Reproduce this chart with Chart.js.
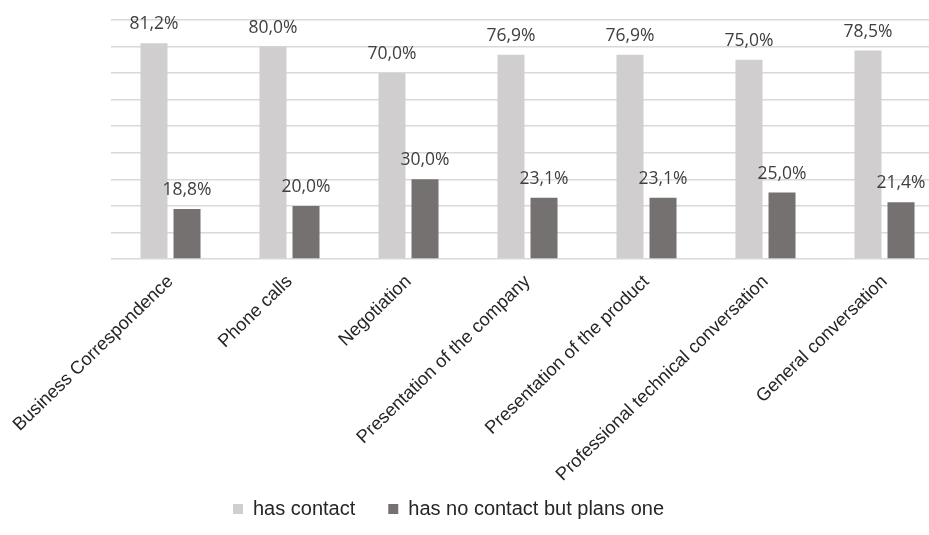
<!DOCTYPE html>
<html>
<head>
<meta charset="utf-8">
<script src="https://cdn.jsdelivr.net/npm/chart.js@4/dist/chart.umd.min.js"></script>
<style>
  html, body { margin: 0; padding: 0; background: #fff; overflow: hidden; }
  #wrap { position: absolute; left: 0; top: 0; width: 960px; height: 535px; }
</style>
</head>
<body>
<div id="wrap"><canvas id="chart" width="960" height="535"></canvas></div>
<script>
const categories = [
  'Business Correspondence',
  'Phone calls',
  'Negotiation',
  'Presentation of the company',
  'Presentation of the product',
  'Professional technical conversation',
  'General conversation'
]
const hasContact = [81.2, 80.0, 70.0, 76.9, 76.9, 75.0, 78.5]
const plansContact = [18.8, 20.0, 30.0, 23.1, 23.1, 25.0, 21.4]
const yTicks = [0, 10, 20, 30, 40, 50, 60, 70, 80, 90]

const fmt = (v) => v.toFixed(1).replace('.', ',') + '%'

// value labels above every bar
const valueLabels = {
  id: 'valueLabels',
  afterDatasetsDraw(chart) {
    const ctx = chart.ctx
    ctx.save()
    ctx.font = '17.5px "Open Sans"'
    ctx.fillStyle = '#404040'
    ctx.textAlign = 'center'
    ctx.textBaseline = 'alphabetic'
    chart.data.datasets.forEach((ds, i) => {
      chart.getDatasetMeta(i).data.forEach((bar, j) => {
        ctx.fillText(fmt(ds.data[j]), bar.x, bar.y - 14)
      })
    })
    ctx.restore()
  }
}

// legend sits left of the plot centre in the original,
// and the long rotated labels run down past the axis box
const layoutTweaks = {
  id: 'layoutTweaks',
  afterLayout(chart) {
    const lg = chart.legend
    lg.left -= 79
    lg.right -= 79
    lg.top += 2
    lg.bottom += 2
    chart.scales.x.bottom = chart.height
  }
}

new Chart(document.getElementById('chart'), {
  type: 'bar',
  data: {
    labels: categories,
    datasets: [
      {
        label: 'has contact',
        data: hasContact,
        backgroundColor: '#D0CECE'
      },
      {
        label: 'has no contact but plans one',
        data: plansContact,
        backgroundColor: '#767171'
      }
    ]
  },
  options: {
    responsive: false,
    animation: false,
    categoryPercentage: 0.555,
    barPercentage: 0.818,
    layout: { padding: { left: 111, right: 16, top: 20, bottom: 8 } },
    plugins: {
      tooltip: { enabled: false },
      legend: {
        position: 'bottom',
        labels: {
          boxWidth: 10,
          boxHeight: 10,
          padding: 33,
          color: '#262626',
          font: { family: '"Liberation Sans", Arial', size: 20 }
        }
      }
    },
    scales: {
      x: {
        grid: { display: false },
        border: { display: false },
        ticks: {
          minRotation: 44,
          maxRotation: 44,
          padding: 4,
          color: '#262626',
          font: { family: '"Liberation Sans", Arial', size: 18.3 }
        },
        afterFit: (scale) => { scale.height = 205 }
      },
      y: {
        min: 0,
        max: 90,
        afterBuildTicks: (scale) => { scale.ticks = yTicks.map((v) => ({ value: v })) },
        ticks: { display: false },
        border: { display: false },
        grid: { color: '#D9D9D9', lineWidth: 1.5, drawTicks: false }
      }
    }
  },
  plugins: [valueLabels, layoutTweaks]
})
</script>
</body>
</html>
